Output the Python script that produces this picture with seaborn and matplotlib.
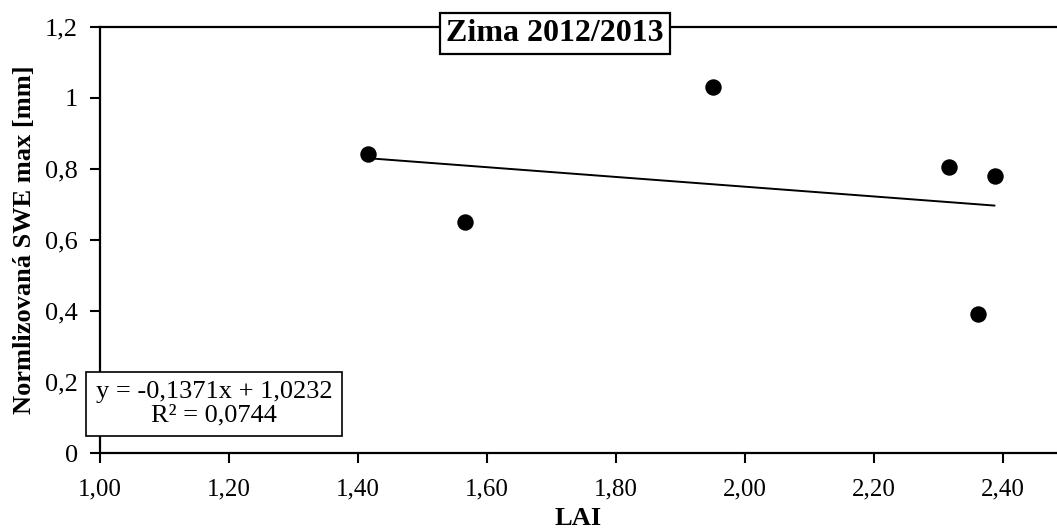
import numpy as np
import pandas as pd
import matplotlib
matplotlib.use("Agg")
import matplotlib.pyplot as plt
from matplotlib.ticker import FuncFormatter, MultipleLocator
import seaborn as sns

# Data
lai = [1.415, 1.566, 1.951, 2.317, 2.362, 2.387]
swe_norm = [0.842, 0.652, 1.030, 0.806, 0.391, 0.780]
title_text = "Zima 2012/2013"
eq_text = "y = -0,1371x + 1,0232\nR² = 0,0744"
x_label = "LAI"
y_label = "Normlizovaná SWE max [mm]"

df = pd.DataFrame({"LAI": lai, "SWE": swe_norm})

sns.set_theme(style="white")
plt.rcParams["font.family"] = ["Liberation Serif", "DejaVu Serif"]
plt.rcParams["text.color"] = "black"
plt.rcParams["axes.labelcolor"] = "black"
plt.rcParams["xtick.color"] = "black"
plt.rcParams["ytick.color"] = "black"

fig = plt.figure(figsize=(10.57, 5.31), dpi=100)
ax = fig.add_axes([100 / 1057, 1 - 453 / 531, 957 / 1057, 426 / 531])

sns.regplot(data=df, x="LAI", y="SWE", scatter=False, ci=None, truncate=True,
            color="black", line_kws={"linewidth": 1.4}, ax=ax)
sns.scatterplot(data=df, x="LAI", y="SWE", color="black", s=140,
                edgecolor="black", linewidth=0, zorder=3, ax=ax)

ax.set_xlim(1.0, 1.0 + 957 / 645)
ax.set_ylim(0, 1.2)
ax.xaxis.set_major_locator(MultipleLocator(0.2))
ax.yaxis.set_major_locator(MultipleLocator(0.2))
ax.xaxis.set_major_formatter(FuncFormatter(lambda v, p: f"{v:.2f}".replace(".", ",")))
ax.yaxis.set_major_formatter(FuncFormatter(lambda v, p: f"{round(v, 1):g}".replace(".", ",")))

for side in ["top", "left", "bottom"]:
    ax.spines[side].set_visible(True)
    ax.spines[side].set_color("black")
    ax.spines[side].set_linewidth(1.6)
ax.spines["right"].set_visible(False)

ax.tick_params(axis="both", which="major", direction="out", length=7, width=1.5,
               color="black", labelcolor="black", bottom=True, left=True)
ax.tick_params(axis="x", pad=11, labelsize=18)
ax.tick_params(axis="y", pad=9, labelsize=19)
ax.grid(False)

ax.set_xlabel(x_label, fontsize=19, fontweight="bold", labelpad=5, color="black")
ax.set_ylabel(y_label, fontsize=19, fontweight="bold", labelpad=6, color="black")

fig.text(555 / 1057, 1 - 33.5 / 531, title_text, ha="center", va="center",
         fontsize=23, fontweight="bold", color="black",
         bbox=dict(boxstyle="square,pad=0.2", facecolor="white", edgecolor="black", linewidth=1.6))

fig.text(214 / 1057, 1 - 404 / 531, eq_text, ha="center", va="center",
         fontsize=19, multialignment="center", linespacing=1.1, color="black",
         bbox=dict(boxstyle="square,pad=0.35", facecolor="white", edgecolor="black", linewidth=1.2),
         zorder=10)

fig.savefig("out.png", dpi=100)
